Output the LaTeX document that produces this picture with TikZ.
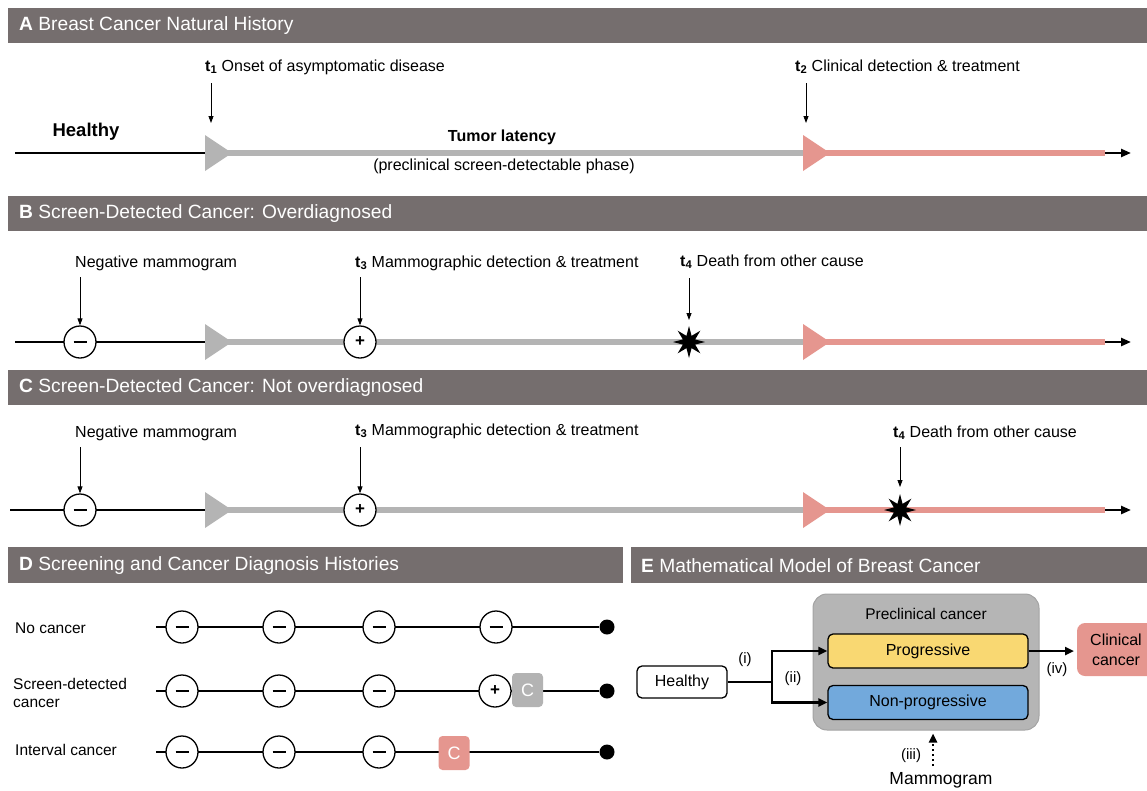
\documentclass[tikz,border=0pt]{standalone}
\usepackage{fontspec}
\setmainfont{Liberation Sans}
\usetikzlibrary{arrows.meta,shapes.geometric,backgrounds}
\definecolor{hdrgray}{HTML}{756E6E}
\definecolor{latgray}{HTML}{B4B4B4}
\definecolor{clinpink}{HTML}{E5968F}
\definecolor{progyel}{HTML}{F9D872}
\definecolor{nonpblue}{HTML}{72A9DC}
\definecolor{pregray}{HTML}{B5B5B5}
\definecolor{preedge}{HTML}{A3A3A3}
\definecolor{cboxgray}{HTML}{B3B3B3}
\newcommand{\hsz}{\fontsize{19.2}{22}\selectfont}
\newcommand{\lsz}{\fontsize{16}{19}\selectfont}
\newcommand{\dsz}{\fontsize{15.5}{18.5}\selectfont}
\newcommand{\minussign}{\rule{13pt}{2.4pt}}
\begin{document}
\begin{tikzpicture}[x=1pt,y=-1pt,
  hdrtext/.style={anchor=west,text=white,font=\hsz,inner sep=0},
  lbl/.style={anchor=base west,font=\lsz,inner sep=0},
  pointer/.style={-{Triangle[length=7pt,width=5pt]},line width=0.8pt},
  healthline/.style={line width=2.8pt},
  latline/.style={line width=6.5pt,draw=latgray},
  clinline/.style={line width=6.5pt,draw=clinpink},
  endarrow/.style={line width=2.4pt,-{Triangle[length=10pt,width=8pt]}},
  screen/.style={circle,draw,line width=1.3pt,fill=white,minimum size=32pt,inner sep=0,font=\bfseries\fontsize{17}{19}\selectfont},
  deathstar/.style={star,star points=8,star point ratio=2.4,fill=black,minimum size=32pt,inner sep=0},
  dline/.style={line width=2.8pt},
  enddot/.style={circle,fill=black,minimum size=15pt,inner sep=0},
  cbox/.style={rounded corners=4pt,minimum width=31pt,minimum height=34pt,inner sep=0,text=white,font=\fontsize{18}{20}\selectfont},
  rowlbl/.style={anchor=west,font=\dsz,inner sep=0,align=left},
  mbox/.style={draw,line width=1.3pt,rounded corners=5pt,inner sep=0,font=\fontsize{16}{19}\selectfont},
  flow/.style={line width=2.4pt},
  flowarrow/.style={line width=2.4pt,-{Triangle[length=9pt,width=8pt]}},
  roman/.style={font=\fontsize{15}{17}\selectfont,inner sep=0}
]
\useasboundingbox (0,0) rectangle (1147,790);

% ---------- headers ----------
\fill[hdrgray] (8,8) rectangle (1147,43);
\node[hdrtext] (hA) at (19,26) {\textbf{A} Breast Cancer Natural History};
\fill[hdrgray] (8,196) rectangle (1147,231);
\node[hdrtext] (hB) at (19,214) {\textbf{B} Screen-Detected Cancer: Overdiagnosed};
\fill[hdrgray] (8,370) rectangle (1147,405);
\node[hdrtext] (hC) at (19,388) {\textbf{C} Screen-Detected Cancer: Not overdiagnosed};
\fill[hdrgray] (8,547) rectangle (623,583);
\node[hdrtext] (hD) at (19,565.5) {\textbf{D} Screening and Cancer Diagnosis Histories};
\fill[hdrgray] (631,547) rectangle (1147,583);
\node[hdrtext] (hE) at (641,565.5) {\textbf{E} Mathematical Model of Breast Cancer};

% ---------- panel A ----------
\coordinate (a0) at (15,153);
\coordinate (a1) at (205,153);
\coordinate (a2) at (803,153);
\coordinate (a3) at (1105,153);
\coordinate (a4) at (1131,153);
\draw[latline] (a1) -- (a2);
\draw[clinline] (a2) -- (a3);
\draw[healthline] (a0) -- (a1);
\fill[latgray] (205,135) -- (232,153) -- (205,171) -- cycle;
\fill[clinpink] (803,135) -- (830,153) -- (803,171) -- cycle;
\draw[endarrow] (a3) -- (a4);
\node[font=\bfseries\fontsize{18.5}{21}\selectfont,inner sep=0] (healthyA) at (86,132) {Healthy};
\node[font=\bfseries\fontsize{16}{19}\selectfont,inner sep=0] (latency) at (502,137) {Tumor latency};
\node[font=\lsz,inner sep=0] (phase) at (504,166) {(preclinical screen-detectable phase)};
\node[lbl] (t1) at (205,71) {\textbf{t\textsubscript{1}} Onset of asymptomatic disease};
\coordinate (t1a) at (211,83); \coordinate (t1b) at (211,123);
\draw[pointer] (t1a) -- (t1b);
\node[lbl] (t2) at (795,71) {\textbf{t\textsubscript{2}} Clinical detection \& treatment};
\coordinate (t2a) at (806,83); \coordinate (t2b) at (806,123);
\draw[pointer] (t2a) -- (t2b);

% ---------- panel B ----------
\coordinate (b0) at (15,342);
\coordinate (b1) at (205,342);
\coordinate (b2) at (803,342);
\coordinate (b3) at (1105,342);
\coordinate (b4) at (1131,342);
\draw[latline] (b1) -- (b2);
\draw[clinline] (b2) -- (b3);
\draw[healthline] (b0) -- (b1);
\fill[latgray] (205,324) -- (232,342) -- (205,360) -- cycle;
\fill[clinpink] (803,324) -- (830,342) -- (803,360) -- cycle;
\draw[endarrow] (b3) -- (b4);
\node[screen] (bneg) at (80,342) {\minussign};
\node[screen] (bpos) at (360,342) {+};
\node[deathstar] (bdeath) at (689,342) {};
\node[lbl] (bnl) at (75,267) {Negative mammogram};
\node[lbl] (t3b) at (355,267) {\textbf{t\textsubscript{3}} Mammographic detection \& treatment};
\node[lbl] (t4b) at (680,266) {\textbf{t\textsubscript{4}} Death from other cause};
\draw[pointer] (80,277) -- (bneg.north);
\draw[pointer] (360,277) -- (bpos.north);
\draw[pointer] (689,278) -- (689,320);

% ---------- panel C ----------
\coordinate (c0) at (10,510);
\coordinate (c1) at (205,510);
\coordinate (c2) at (803,510);
\coordinate (c3) at (1105,510);
\coordinate (c4) at (1131,510);
\draw[latline] (c1) -- (c2);
\draw[clinline] (c2) -- (c3);
\draw[healthline] (c0) -- (c1);
\fill[latgray] (205,492) -- (232,510) -- (205,528) -- cycle;
\fill[clinpink] (803,492) -- (830,510) -- (803,528) -- cycle;
\draw[endarrow] (c3) -- (c4);
\node[screen] (cneg) at (80,510) {\minussign};
\node[screen] (cpos) at (360,510) {+};
\node[deathstar] (cdeath) at (900,510) {};
\node[lbl] (cnl) at (75,437) {Negative mammogram};
\node[lbl] (t3c) at (355,435) {\textbf{t\textsubscript{3}} Mammographic detection \& treatment};
\node[lbl] (t4c) at (893,437) {\textbf{t\textsubscript{4}} Death from other cause};
\draw[pointer] (80,447) -- (cneg.north);
\draw[pointer] (360,447) -- (cpos.north);
\draw[pointer] (900,447) -- (900,487);

% ---------- panel D ----------
\node[rowlbl] (lno) at (15,628) {No cancer};
\node[rowlbl] (lsd) at (13,693) {Screen-detected\\cancer};
\node[rowlbl] (lint) at (15,750) {Interval cancer};

\coordinate (r1s) at (156,627);
\coordinate (r2s) at (156,691);
\coordinate (r3s) at (156,752);
\node[enddot] (r1e) at (607,627) {};
\node[enddot] (r2e) at (607,691) {};
\node[enddot] (r3e) at (607,752) {};

\node[screen] (r1a) at (182,627) {\minussign};
\node[screen] (r1b) at (279,627) {\minussign};
\node[screen] (r1c) at (379,627) {\minussign};
\node[screen] (r1d) at (496,627) {\minussign};

\node[screen] (r2a) at (182,691) {\minussign};
\node[screen] (r2b) at (279,691) {\minussign};
\node[screen] (r2c) at (379,691) {\minussign};
\node[screen] (r2d) at (495,691) {+};
\node[cbox,fill=cboxgray] (r2c1) at (527.5,690) {C};

\node[screen] (r3a) at (182,752) {\minussign};
\node[screen] (r3b) at (279,752) {\minussign};
\node[screen] (r3c) at (379,752) {\minussign};
\node[cbox,fill=clinpink] (r3c1) at (454,753) {C};

\begin{scope}[on background layer]
\draw[dline] (r1s) -- (r1e);
\draw[dline] (r2s) -- (r2e);
\draw[dline] (r3s) -- (r3e);
\end{scope}

% ---------- panel E ----------
\node[draw=preedge,line width=1pt,fill=pregray,rounded corners=14pt,minimum width=226pt,minimum height=136pt,inner sep=0] (pre) at (926,662) {};
\node[font=\fontsize{15.5}{18}\selectfont,inner sep=0] (prelbl) at (926,614) {Preclinical cancer};
\node[mbox,fill=progyel,minimum width=200pt,minimum height=34pt] (prog) at (928,651) {Progressive};
\node[mbox,fill=nonpblue,minimum width=200pt,minimum height=34pt] (nonp) at (928,702.5) {Non-progressive};
\node[mbox,fill=white,minimum width=90pt,minimum height=32pt] (healthyE) at (682,682) {Healthy};
\fill[clinpink,rounded corners=8pt] (1077,623) rectangle (1170,676);
\node[font=\fontsize{16}{19.5}\selectfont,align=center,inner sep=0] (clin) at (1116,650) {Clinical\\cancer};
\coordinate (clinw) at (1077,651);

\coordinate (split) at (772,682);
\draw[flow] (healthyE.east) -- (split);
\draw[flowarrow] (split) |- (prog.west);
\draw[flowarrow] (split) |- (nonp.west);
\draw[flowarrow,shorten >=3pt] (prog.east) -- (clinw);

\node[font=\fontsize{17.5}{20}\selectfont,inner sep=0] (mam) at (941,780) {Mammogram};
\coordinate (mtop) at (933,766);
\draw[line width=2.6pt,dash pattern=on 2.5pt off 2.5pt,-{Triangle[length=9pt,width=8pt]},shorten >=3pt] (mtop) -- (mtop |- pre.south);

\node[roman] (ri) at (745,660) {(i)};
\node[roman] (rii) at (793,679) {(ii)};
\node[roman] (riii) at (911,756) {(iii)};
\node[roman] (riv) at (1057,670) {(iv)};
\end{tikzpicture}
\end{document}
